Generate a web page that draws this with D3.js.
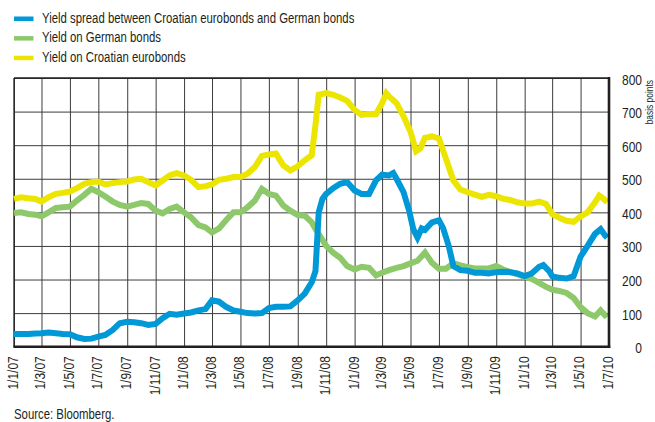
<!DOCTYPE html>
<html>
<head>
<meta charset="utf-8">
<script src="https://cdn.jsdelivr.net/npm/d3@7"></script>
<style>
  html, body { margin: 0; padding: 0; background: #fff; }
  svg { display: block; }
  text { font-family: "Liberation Sans", Arial, sans-serif; fill: #231f20; }
</style>
</head>
<body>
<svg id="chart" width="655" height="422"></svg>
<script>
// Series names, in legend order
const seriesNames = [
  "Yield spread between Croatian eurobonds and German bonds",
  "Yield on German bonds",
  "Yield on Croatian eurobonds"
];
const seriesColors = ["#0098d6", "#8dc86b", "#ebe500"];

// Axis ticks
const yTicks = [0, 100, 200, 300, 400, 500, 600, 700, 800];
const xTickLabels = [
  "1/1/07", "1/3/07", "1/5/07", "1/7/07", "1/9/07", "1/11/07",
  "1/1/08", "1/3/08", "1/5/08", "1/7/08", "1/9/08", "1/11/08",
  "1/1/09", "1/3/09", "1/5/09", "1/7/09", "1/9/09", "1/11/09",
  "1/1/10", "1/3/10", "1/5/10", "1/7/10"
];
const yUnit = "basis points";
const sourceNote = "Source: Bloomberg.";

// Spread, basis points
const spread = [
  ["2007-01-01",38],["2007-01-16",38],["2007-02-01",38],["2007-02-16",39],["2007-03-01",40],["2007-03-16",42],
  ["2007-04-01",40],["2007-04-16",38],["2007-05-01",37],["2007-05-16",28],["2007-06-01",23],["2007-06-16",24],
  ["2007-07-01",30],["2007-07-16",35],["2007-08-01",50],["2007-08-16",70],["2007-09-01",74],["2007-09-16",73],
  ["2007-10-01",70],["2007-10-16",65],["2007-11-01",68],["2007-11-16",85],["2007-12-01",98],["2007-12-16",95],
  ["2008-01-01",99],["2008-01-16",102],["2008-02-01",108],["2008-02-16",112],["2008-03-01",138],["2008-03-16",134],
  ["2008-04-01",118],["2008-04-16",108],["2008-05-01",104],["2008-05-16",100],["2008-06-01",99],["2008-06-16",100],
  ["2008-07-01",115],["2008-07-16",119],["2008-08-01",119],["2008-08-16",120],["2008-09-01",138],["2008-09-16",158],
  ["2008-10-01",192],["2008-10-09",225],["2008-10-16",400],["2008-10-24",440],["2008-11-01",455],["2008-11-16",472],
  ["2008-12-01",485],["2008-12-16",490],["2009-01-01",465],["2009-01-16",455],["2009-02-01",455],["2009-02-16",495],
  ["2009-03-01",512],["2009-03-16",510],["2009-03-25",517],["2009-04-01",500],["2009-04-16",460],["2009-04-28",405],
  ["2009-05-07",350],["2009-05-16",325],["2009-05-25",352],["2009-06-01",348],["2009-06-16",370],["2009-07-01",376],
  ["2009-07-10",353],["2009-07-22",300],["2009-08-01",240],["2009-08-16",228],["2009-09-01",226],["2009-09-16",220],
  ["2009-10-01",220],["2009-10-16",218],["2009-11-01",222],["2009-11-16",223],["2009-12-01",222],["2009-12-16",218],
  ["2010-01-01",210],["2010-01-16",218],["2010-02-01",238],["2010-02-10",243],["2010-02-22",226],["2010-03-01",210],
  ["2010-03-16",205],["2010-04-01",203],["2010-04-16",210],["2010-05-01",268],["2010-05-16",300],["2010-06-01",336],
  ["2010-06-13",350],["2010-06-22",332],["2010-06-27",325]
];

// German bond yield, basis points
const germanYield = [
  ["2007-01-01",398],["2007-01-16",400],["2007-02-01",395],["2007-02-16",393],["2007-03-01",388],["2007-03-16",400],
  ["2007-04-01",413],["2007-04-16",415],["2007-05-01",417],["2007-05-16",435],["2007-06-01",452],["2007-06-16",470],
  ["2007-07-01",460],["2007-07-16",447],["2007-08-01",432],["2007-08-16",422],["2007-09-01",417],["2007-09-16",422],
  ["2007-10-01",428],["2007-10-16",425],["2007-11-01",405],["2007-11-16",397],["2007-12-01",410],["2007-12-16",417],
  ["2008-01-01",400],["2008-01-16",385],["2008-02-01",362],["2008-02-16",355],["2008-03-01",340],["2008-03-16",352],
  ["2008-04-01",378],["2008-04-16",400],["2008-05-01",400],["2008-05-16",415],["2008-06-01",435],["2008-06-16",470],
  ["2008-07-01",455],["2008-07-16",450],["2008-08-01",420],["2008-08-16",405],["2008-09-01",392],["2008-09-16",390],
  ["2008-10-01",370],["2008-10-16",335],["2008-11-01",300],["2008-11-16",280],["2008-12-01",265],["2008-12-16",240],
  ["2009-01-01",230],["2009-01-16",238],["2009-02-01",235],["2009-02-16",212],["2009-03-01",220],["2009-03-16",228],
  ["2009-04-01",235],["2009-04-16",240],["2009-05-01",248],["2009-05-16",256],["2009-06-01",280],["2009-06-16",250],
  ["2009-07-01",232],["2009-07-16",232],["2009-08-01",248],["2009-08-16",242],["2009-09-01",237],["2009-09-16",233],
  ["2009-10-01",233],["2009-10-16",233],["2009-11-01",240],["2009-11-16",230],["2009-12-01",222],["2009-12-16",216],
  ["2010-01-01",208],["2010-01-16",202],["2010-02-01",190],["2010-02-16",178],["2010-03-01",170],["2010-03-16",166],
  ["2010-04-01",160],["2010-04-16",145],["2010-05-01",118],["2010-05-16",100],["2010-06-01",90],["2010-06-13",108],
  ["2010-06-22",94],["2010-06-27",100]
];

// Croatian eurobond yield, basis points
const croatianYield = [
  ["2007-01-01",440],["2007-01-16",445],["2007-02-01",442],["2007-02-16",440],["2007-03-01",432],["2007-03-16",445],
  ["2007-04-01",455],["2007-04-16",458],["2007-05-01",462],["2007-05-16",472],["2007-06-01",485],["2007-06-16",490],
  ["2007-07-01",492],["2007-07-16",483],["2007-08-01",487],["2007-08-16",490],["2007-09-01",492],["2007-09-16",498],
  ["2007-10-01",500],["2007-10-16",490],["2007-11-01",480],["2007-11-16",495],["2007-12-01",510],["2007-12-16",517],
  ["2008-01-01",510],["2008-01-16",497],["2008-02-01",475],["2008-02-16",478],["2008-03-01",483],["2008-03-16",497],
  ["2008-04-01",500],["2008-04-16",505],["2008-05-01",505],["2008-05-16",515],["2008-06-01",535],["2008-06-16",568],
  ["2008-07-01",572],["2008-07-16",575],["2008-08-01",540],["2008-08-16",525],["2008-09-01",537],["2008-09-16",555],
  ["2008-10-01",570],["2008-10-09",660],["2008-10-16",750],["2008-11-01",755],["2008-11-16",750],["2008-12-01",742],
  ["2008-12-16",732],["2009-01-01",705],["2009-01-16",690],["2009-02-01",693],["2009-02-16",692],["2009-03-01",725],
  ["2009-03-10",755],["2009-03-16",745],["2009-04-01",725],["2009-04-16",686],["2009-05-01",640],["2009-05-13",582],
  ["2009-05-22",590],["2009-06-01",622],["2009-06-16",626],["2009-07-01",620],["2009-07-16",560],["2009-08-01",495],
  ["2009-08-16",468],["2009-09-01",460],["2009-09-16",453],["2009-10-01",446],["2009-10-16",452],["2009-11-01",448],
  ["2009-11-16",440],["2009-12-01",437],["2009-12-16",430],["2010-01-01",426],["2010-01-16",426],["2010-02-01",432],
  ["2010-02-16",425],["2010-03-01",395],["2010-03-16",384],["2010-04-01",375],["2010-04-16",372],["2010-05-01",388],
  ["2010-05-16",400],["2010-06-01",430],["2010-06-10",450],["2010-06-19",441],["2010-06-27",430]
];

// Narrow type: regular sans squeezed horizontally along the text direction
const narrow = "scale(0.8,1)";
const narrowLegend = "scale(0.785,1)";

const parseDay = d3.timeParse("%Y-%m-%d");
const parseTick = d3.timeParse("%d/%m/%y");
const toPoints = arr => arr.map(([d, v]) => ({ date: parseDay(d), value: v }));
const series = [spread, germanYield, croatianYield].map(toPoints);
const tickDates = xTickLabels.map(parseTick);
const tickLabelByTime = new Map(tickDates.map((d, i) => [+d, xTickLabels[i]]));

const svg = d3.select("#chart");
const plot = { left: 14, right: 609, top: 78, bottom: 346.7 };

const x = d3.scaleTime()
  .domain([tickDates[0], tickDates[tickDates.length - 1]])
  .range([plot.left, plot.right]);
const y = d3.scaleLinear()
  .domain([0, 800])
  .range([plot.bottom, plot.top]);

// Gridlines
svg.append("g")
  .attr("transform", `translate(${plot.left},0)`)
  .call(d3.axisLeft(y).tickValues(yTicks).tickSize(-(plot.right - plot.left)).tickFormat(""))
  .call(g => g.select(".domain").remove())
  .call(g => g.selectAll("line").attr("stroke", "#3c3c3c").attr("stroke-width", 1));

svg.append("g")
  .attr("transform", `translate(0,${plot.bottom})`)
  .call(d3.axisBottom(x).tickValues(tickDates).tickSize(-(plot.bottom - plot.top)).tickFormat(""))
  .call(g => g.select(".domain").remove())
  .call(g => g.selectAll("line").attr("stroke", "#3c3c3c").attr("stroke-width", 1));

// Plot frame: thin left and top
svg.append("line").attr("x1", plot.left).attr("x2", plot.left).attr("y1", plot.top).attr("y2", plot.bottom)
  .attr("stroke", "#231f20").attr("stroke-width", 1.3);
svg.append("line").attr("x1", plot.left).attr("x2", plot.right).attr("y1", plot.top).attr("y2", plot.top)
  .attr("stroke", "#231f20").attr("stroke-width", 1.3);

// Series lines: Croatian yield beneath, German yield, spread on top
const line = d3.line()
  .x(d => x(d.date))
  .y(d => y(d.value));

[2, 1, 0].forEach(i => {
  svg.append("path")
    .datum(series[i])
    .attr("fill", "none")
    .attr("stroke", seriesColors[i])
    .attr("stroke-width", 6)
    .attr("stroke-linejoin", "miter")
    .attr("stroke-miterlimit", 3)
    .attr("d", line);
});

// Heavier right and bottom frame
svg.append("line").attr("x1", plot.right).attr("x2", plot.right).attr("y1", plot.top - 1).attr("y2", plot.bottom + 1.2)
  .attr("stroke", "#231f20").attr("stroke-width", 2.6);
svg.append("line").attr("x1", plot.left - 0.6).attr("x2", plot.right + 1.3).attr("y1", plot.bottom).attr("y2", plot.bottom)
  .attr("stroke", "#231f20").attr("stroke-width", 2.4);

// Right value axis
svg.append("g")
  .attr("transform", `translate(${plot.right},0)`)
  .call(d3.axisRight(y).tickValues(yTicks).tickSize(0).tickFormat(d3.format("d")))
  .call(g => g.select(".domain").remove())
  .call(g => g.selectAll("text")
    .attr("x", 0)
    .attr("transform", `translate(33,0) ${narrow}`)
    .attr("dy", "0.4em")
    .attr("text-anchor", "end")
    .style("font-size", "15px")
    .style("font-family", null));

// Unit label
svg.append("text")
  .attr("transform", `translate(653,80) rotate(-90) ${narrow}`)
  .attr("text-anchor", "end")
  .style("font-size", "10.5px")
  .text(yUnit);

// Date axis labels
svg.append("g")
  .attr("transform", `translate(0,${plot.bottom})`)
  .call(d3.axisBottom(x).tickValues(tickDates).tickSize(0).tickFormat(d => tickLabelByTime.get(+d)))
  .call(g => g.select(".domain").remove())
  .call(g => g.selectAll("text")
    .attr("x", 0)
    .attr("y", -2)
    .attr("dy", "0.36em")
    .attr("transform", `rotate(-90) translate(-9.5,0) ${narrow}`)
    .attr("text-anchor", "end")
    .style("font-size", "15px")
    .style("font-family", null));

// Legend
const legend = svg.append("g");
seriesNames.forEach((name, i) => {
  const row = legend.append("g").attr("transform", `translate(0,${i * 19.6})`);
  row.append("rect")
    .attr("x", 14).attr("y", 16.5).attr("width", 19.5).attr("height", 4.5)
    .attr("fill", seriesColors[i]);
  row.append("text")
    .attr("transform", `translate(42,22.8) ${narrowLegend}`)
    .style("font-size", "14.5px")
    .text(name);
});

// Source note
svg.append("text")
  .attr("transform", `translate(14,419) ${narrowLegend}`)
  .style("font-size", "14.5px")
  .text(sourceNote);
</script>
</body>
</html>
